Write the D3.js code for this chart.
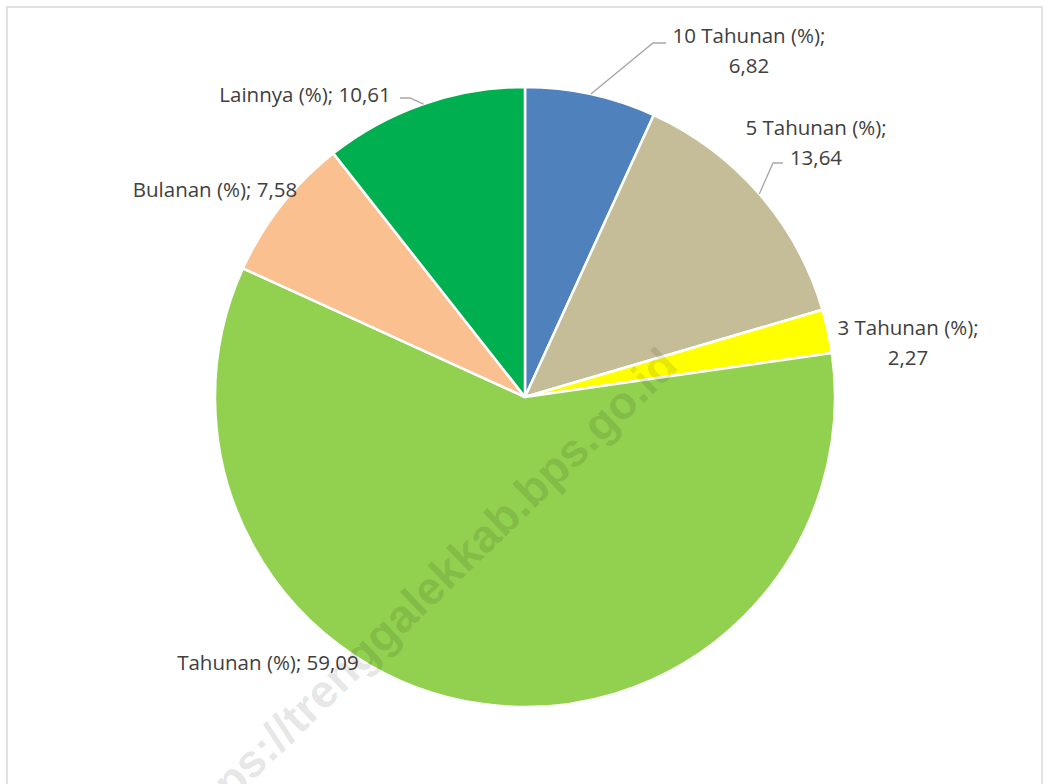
<!DOCTYPE html>
<html lang="en">
<head>
<meta charset="utf-8">
<title>Pie chart</title>
<script src="https://cdnjs.cloudflare.com/ajax/libs/d3/7.8.5/d3.min.js"></script>
<style>
  body { margin: 0; background: #fff; }
  text { font-family: "Open Sans", sans-serif; }
</style>
</head>
<body>
<script>
// data
var categories = ["10 Tahunan (%)", "5 Tahunan (%)", "3 Tahunan (%)", "Tahunan (%)", "Bulanan (%)", "Lainnya (%)"];
var values = [6.82, 13.64, 2.27, 59.09, 7.58, 10.61];
var colors = ["#4F81BD", "#C4BD97", "#FFFF00", "#92D050", "#FAC090", "#00B050"];
var valueLabels = ["6,82", "13,64", "2,27", "59,09", "7,58", "10,61"];

var w = 1048, h = 784;
var cx = 525, cy = 397, r = 310;

var svg = d3.select("body").append("svg")
  .attr("width", w)
  .attr("height", h);

// chart border
svg.append("rect")
  .attr("x", 7).attr("y", 7)
  .attr("width", 1035).attr("height", 800)
  .attr("fill", "#fff")
  .attr("stroke", "#d9d9d9")
  .attr("stroke-width", 1.5);

var pie = d3.pie().sort(null).value(function(d) { return d; });
var arc = d3.arc().innerRadius(0).outerRadius(r);

var arcs = pie(values);

var g = svg.append("g").attr("transform", "translate(" + cx + "," + cy + ")");

g.selectAll("path.slice")
  .data(arcs)
  .enter()
  .append("path")
  .attr("class", "slice")
  .attr("d", arc)
  .attr("fill", function(d, i) { return colors[i]; })
  .attr("stroke", "#fff")
  .attr("stroke-width", 2.5)
  .attr("stroke-linejoin", "round");

// label placement (offsets relative to centre)
var labelPos = [
  { x: 224, y: -354, two: true },
  { x: 291, y: -262, two: true },
  { x: 383, y: -62, two: true },
  { x: -257, y: 273, two: false },
  { x: -310, y: -200, two: false },
  { x: -220, y: -295, two: false }
];

// leader lines: start at slice middle on the rim, then elbow and end point
var leaders = [
  { i: 0, pts: [[128, -354], [141, -354]] },
  { i: 1, pts: [[248, -234], [258, -234]] },
  { i: 5, pts: [[-115, -299], [-125, -299]] }
];

var lineGen = d3.line();
leaders.forEach(function(l) {
  var a = arcs[l.i];
  var mid = (a.startAngle + a.endAngle) / 2;
  var p0 = [Math.sin(mid) * r, -Math.cos(mid) * r];
  g.append("path")
    .attr("d", lineGen([p0].concat(l.pts)))
    .attr("fill", "none")
    .attr("stroke", "#a6a6a6")
    .attr("stroke-width", 1.3);
});

arcs.forEach(function(a, i) {
  var p = labelPos[i];
  var t = g.append("text")
    .attr("text-anchor", "middle")
    .attr("fill", "#404040")
    .style("font-size", "20.5px");
  if (p.two) {
    t.append("tspan").attr("x", p.x).attr("y", p.y).text(categories[i] + ";");
    t.append("tspan").attr("x", p.x).attr("y", p.y + 30).text(valueLabels[i]);
  } else {
    t.attr("x", p.x).attr("y", p.y).text(categories[i] + "; " + valueLabels[i]);
  }
});

// watermark
svg.append("text")
  .attr("transform", "translate(680,368) rotate(-44)")
  .attr("text-anchor", "end")
  .attr("fill", "#000")
  .attr("fill-opacity", 0.11)
  .style("font-family", "'Liberation Sans', Arial, sans-serif")
  .style("font-weight", "bold")
  .style("font-size", "46px")
  .text("https://trenggalekkab.bps.go.id");
</script>
</body>
</html>
